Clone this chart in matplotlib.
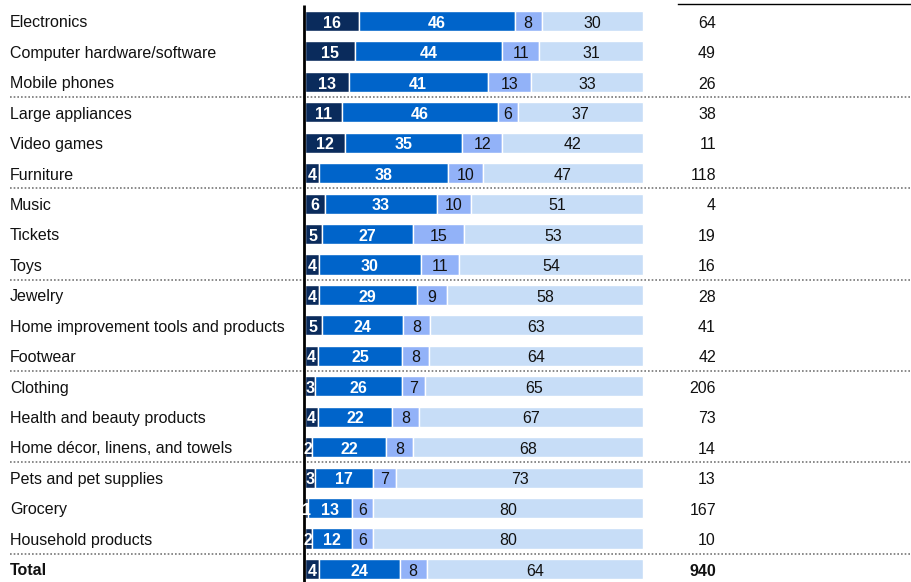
import matplotlib
matplotlib.use("Agg")
import matplotlib.pyplot as plt

categories = ["Electronics", "Computer hardware/software", "Mobile phones",
              "Large appliances", "Video games", "Furniture",
              "Music", "Tickets", "Toys",
              "Jewelry", "Home improvement tools and products", "Footwear",
              "Clothing", "Health and beauty products", "Home décor, linens, and towels",
              "Pets and pet supplies", "Grocery", "Household products", "Total"]
seg1 = [16, 15, 13, 11, 12, 4, 6, 5, 4, 4, 5, 4, 3, 4, 2, 3, 1, 2, 4]
seg2 = [46, 44, 41, 46, 35, 38, 33, 27, 30, 29, 24, 25, 26, 22, 22, 17, 13, 12, 24]
seg3 = [8, 11, 13, 6, 12, 10, 10, 15, 11, 9, 8, 8, 7, 8, 8, 7, 6, 6, 8]
seg4 = [30, 31, 33, 37, 42, 47, 51, 53, 54, 58, 63, 64, 65, 67, 68, 73, 80, 80, 64]
right_values = [64, 49, 26, 38, 11, 118, 4, 19, 16, 28, 41, 42, 206, 73, 14, 13, 167, 10, 940]

colors = ["#0a2b5c", "#0064ca", "#92b2f8", "#c7ddf7"]
text_colors = ["white", "white", "#111111", "#111111"]
text_weights = ["bold", "bold", "normal", "normal"]

plt.rcParams["font.family"] = ["Liberation Sans", "DejaVu Sans"]

W, H = 912, 582
fig = plt.figure(figsize=(W / 100, H / 100), dpi=100)
ax = fig.add_axes([0, 0, 1, 1])
ax.axis("off")

# pixel mapping: x=0 -> 305px, 100 -> 643px ; rows at 21px + 30.44*i
x0px, xscale = 305, 3.38
y0px, yscale = 21, 30.44
ax.set_xlim(-x0px / xscale, (W - x0px) / xscale)
ax.set_ylim((H - y0px) / yscale, -y0px / yscale)

def px_x(p):
    return (p - x0px) / xscale

def px_y(p):
    return (p - y0px) / yscale

n = len(categories)
fs = 11.5
segs = [seg1, seg2, seg3, seg4]
for i in range(n):
    total = sum(s[i] for s in segs)
    left = 0.0
    for k, s in enumerate(segs):
        v = s[i]
        w = v / total * 100
        ax.barh(i, w, left=left, height=0.66, color=colors[k],
                edgecolor="white", linewidth=1.0)
        ax.text(left + w / 2, i + 0.07, str(v), ha="center", va="center",
                color=text_colors[k], fontsize=fs, fontweight=text_weights[k])
        left += w
    bold = "bold" if categories[i] == "Total" else "normal"
    ax.text(px_x(10), i + 0.06, categories[i], ha="left", va="center",
            fontsize=fs, color="#111111", fontweight=bold)
    ax.text(px_x(716), i + 0.07, str(right_values[i]), ha="right", va="center",
            fontsize=fs, color="#111111", fontweight=bold)

# dotted separators between groups
for g in [2.5, 5.5, 8.5, 11.5, 14.5, 17.5]:
    ax.plot([px_x(10), px_x(W)], [g, g], linestyle=(0, (1, 1.2)),
            color="#777777", linewidth=1.2)

# vertical axis line
ax.plot([px_x(304), px_x(304)], [px_y(5), px_y(H)], color="black",
        linewidth=2.0, solid_capstyle="butt")

# top rule above the right column
ax.plot([px_x(678), px_x(W)], [px_y(4), px_y(4)], color="black", linewidth=1.0)

fig.savefig("out.png", dpi=100)
